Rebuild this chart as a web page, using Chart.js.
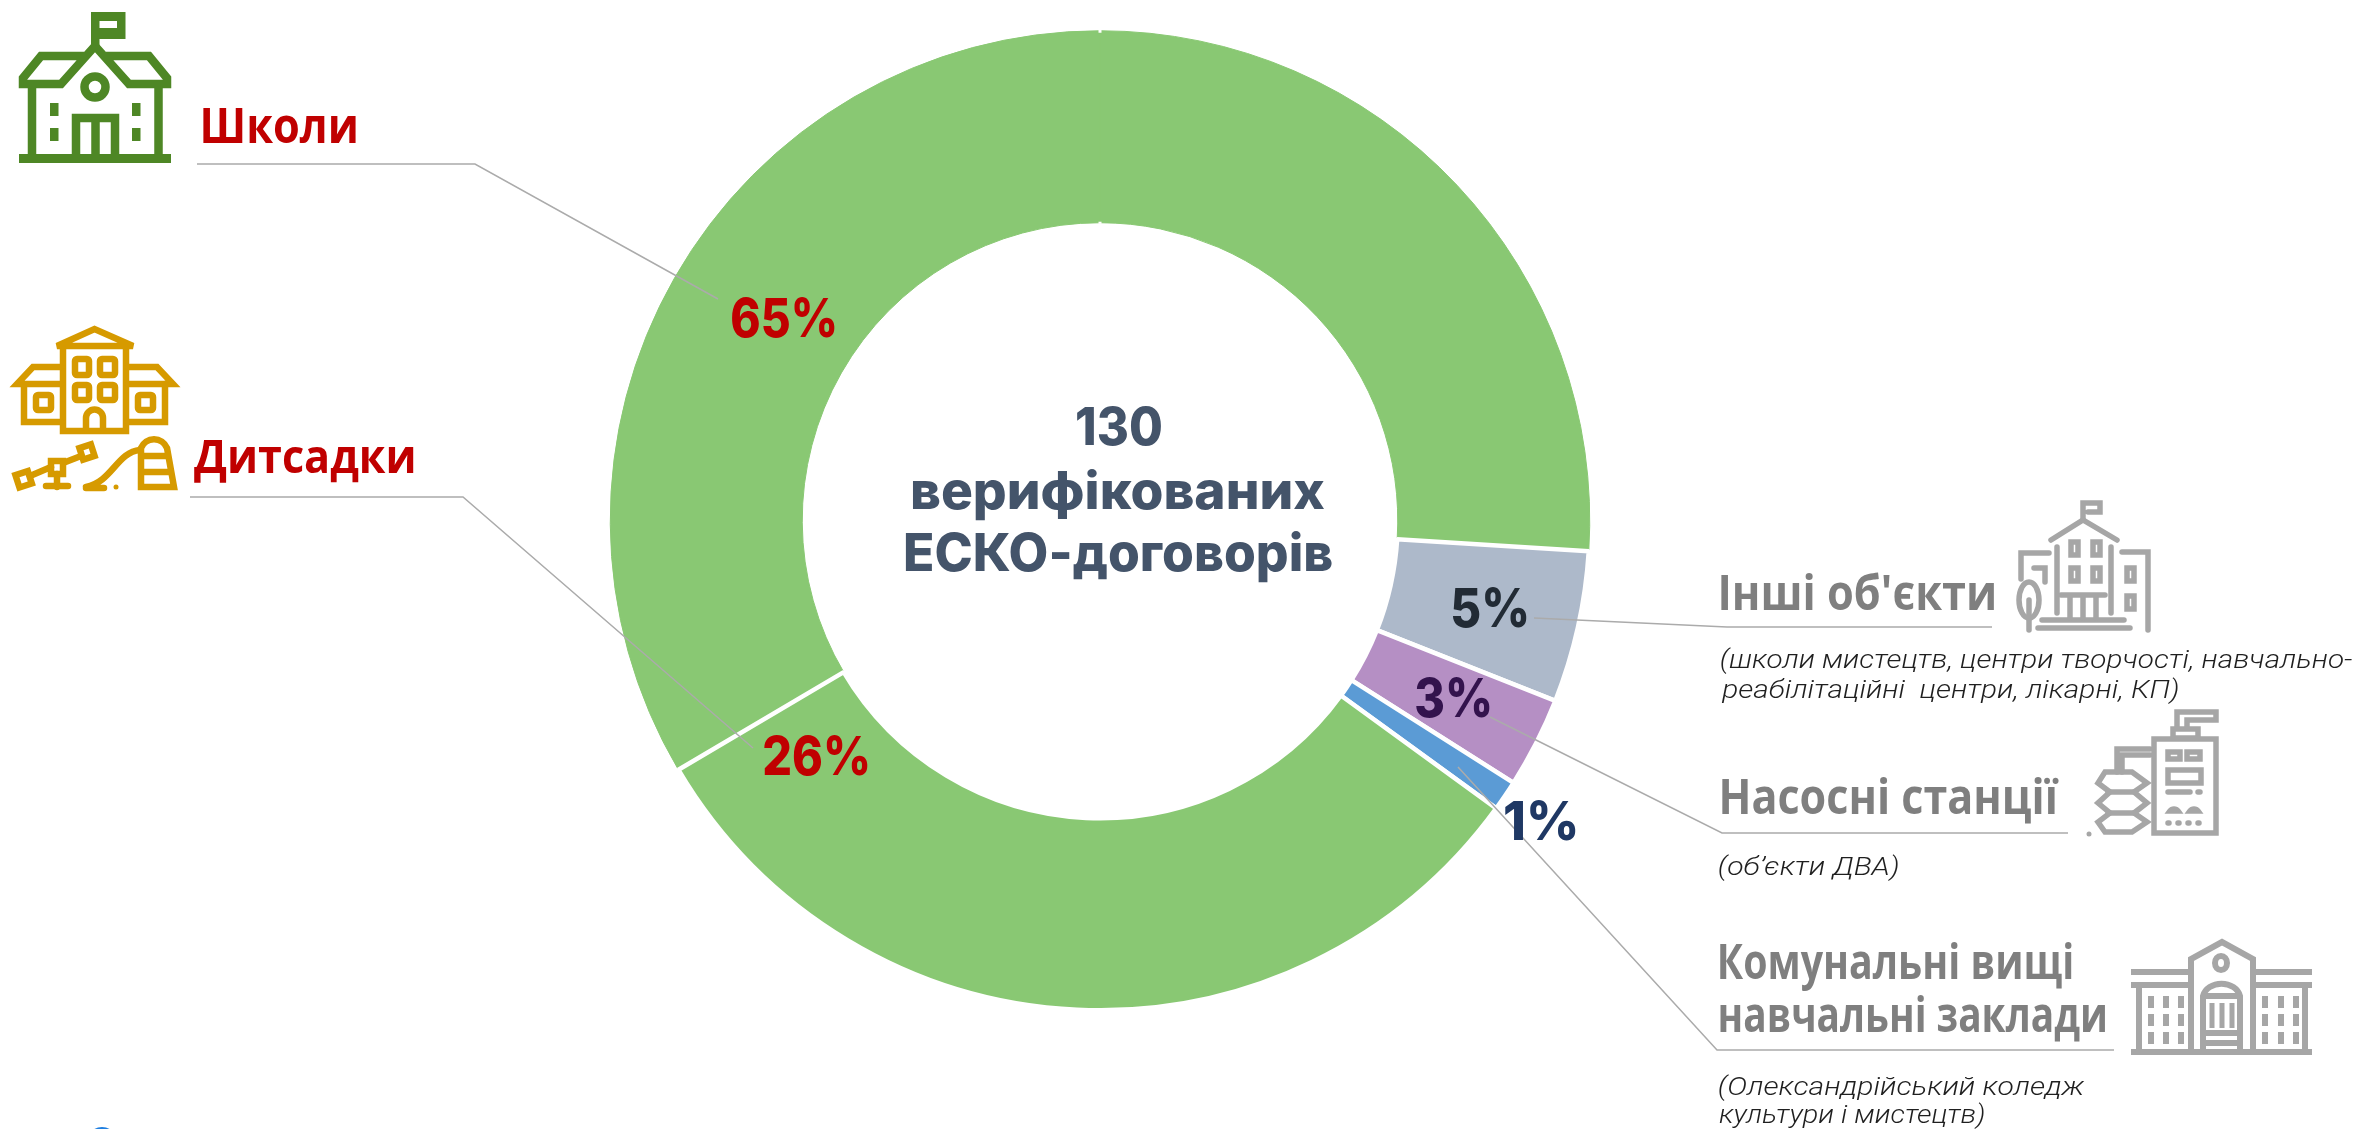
<!DOCTYPE html>
<html lang="uk">
<head>
<meta charset="utf-8">
<title>130 верифікованих ЕСКО-договорів</title>
<script src="https://cdn.jsdelivr.net/npm/chart.js@4/dist/chart.umd.js"></script>
<style>
html,body{margin:0;padding:0;background:#fff;overflow:hidden}
#wrap{position:relative;width:2356px;height:1129px}
canvas,svg{position:absolute;left:0;top:0}
svg .s{fill:none;stroke-linejoin:miter}
</style>
</head>
<body>
<div id="wrap">
<canvas id="c" width="2356" height="1129"></canvas>
<svg width="2356" height="1129" viewBox="0 0 2356 1129">
  <!-- school -->
  <g fill="#4E8725" stroke="none">
    <path fill-rule="evenodd" d="M91 12H125.5V39H99.5V46H91ZM99.5 21V28H117V21Z"/>
    <rect x="19" y="154" width="152" height="9"/>
    <rect x="50" y="103" width="8.5" height="13"/><rect x="50" y="128" width="8.5" height="13"/>
    <rect x="132" y="103" width="8.5" height="13"/><rect x="132" y="128" width="8.5" height="13"/>
  </g>
  <g class="s" stroke="#4E8725" stroke-width="8.5">
    <path d="M95 46L61 84H23V78L41 56H84"/>
    <path d="M95 46L129 84H167V78L149 56H106"/>
    <path d="M32 86V156M158.500 86V156"/>
    <path d="M76 156V118H115V156M95.500 118V156"/>
    <circle cx="95" cy="87" r="10.500"/>
  </g>
  <!-- kindergarten -->
  <g class="s" stroke="#D69A00" stroke-width="6.500" stroke-linejoin="round" stroke-linecap="round">
    <path d="M57 346L94.500 329L133 346ZM63 347V431H126V347"/>
    <path d="M61 367H33L17 384H61M128 367H157L173 384H128"/>
    <path d="M24 384V422H61M165 384V422H128"/>
    <rect x="75" y="359" width="14" height="16" rx="2"/><rect x="100" y="359" width="15" height="16" rx="2"/>
    <rect x="75" y="385" width="14" height="15" rx="2"/><rect x="100" y="385" width="15" height="15" rx="2"/>
    <rect x="36" y="395" width="15" height="15" rx="2"/><rect x="138" y="395" width="15" height="15" rx="2"/>
    <path d="M86 429V418A8.500 8.500 0 0 1 103 418V429"/>
    <rect x="17" y="473" width="13" height="13" transform="rotate(-18 23 479)"/>
    <rect x="51" y="461" width="12" height="13"/>
    <rect x="81" y="446" width="12" height="12" transform="rotate(-18 87 452)"/>
    <path d="M30 476L51 467M63 463L81 456M46 486H68M57 474V487"/>
    <path d="M86 487C112 482 117 452 140 450M86 488H104"/>
    <path d="M141 487V448A14 14 0 0 1 167 448L174 487ZM141 456H167M141 472H171"/>
  </g>
  <circle cx="116" cy="487" r="2.500" fill="#D69A00"/>
  <!-- other objects -->
  <g class="s" stroke="#A6A6A6" stroke-width="5.500" stroke-linecap="round">
    <path d="M2083 520V503H2100V512H2088"/>
    <path d="M2051 540L2083 520L2117 540"/>
    <path d="M2057 547V613M2111 547V613"/>
    <path d="M2049 553H2021V579M2034 568H2045V582M2122 552H2148V630"/>
    <rect x="2071" y="542" width="7" height="13"/><rect x="2093" y="542" width="7" height="13"/>
    <rect x="2071" y="568" width="7" height="13"/><rect x="2093" y="568" width="7" height="13"/>
    <rect x="2127" y="568" width="7" height="13"/><rect x="2127" y="596" width="7" height="13"/>
    <ellipse cx="2029" cy="600" rx="10" ry="18"/><path d="M2029 600V630"/>
    <path d="M2042 620H2124M2038 628H2130"/>
    <path d="M2061 595H2105M2070 595V618M2083 595V618M2096 595V618"/>
  </g>
  <!-- pump station -->
  <g class="s" stroke="#A6A6A6" stroke-width="5.500" stroke-linecap="round">
    <rect x="2154" y="739" width="62" height="94"/>
    <path d="M2177 728V712H2216V720H2187V728"/>
    <rect x="2173" y="729" width="25" height="9"/>
    <path d="M2117 772V749H2150M2122 772V755H2150"/>
    <path d="M2105 772H2132L2147 783L2134 792L2147 803L2134 813L2147 822L2132 832H2105L2098 822L2110 813L2098 803L2110 792L2098 783Z"/>
    <path d="M2108 792H2134M2108 813H2134"/>
    <rect x="2168" y="752" width="12" height="7"/><rect x="2187" y="752" width="13" height="7"/>
    <rect x="2168" y="770" width="33" height="13"/>
    <path d="M2168 792H2190M2198 792H2200M2170 811A5 5 0 0 1 2178 811ZM2190 811A5 5 0 0 1 2198 811Z"/>
    <path d="M2168 823H2169M2178 823H2179M2188 823H2189M2198 823H2199"/>
  </g>
  <circle cx="2089" cy="834" r="2.500" fill="#A6A6A6"/>
  <!-- college -->
  <g class="s" stroke="#A6A6A6" stroke-width="6">
    <path d="M2191 1052V959L2222 942L2253 959V1052"/>
    <ellipse cx="2221" cy="963" rx="6" ry="7"/>
    <path d="M2131 972H2191M2253 972H2312M2131 985H2191M2253 985H2312"/>
    <path d="M2131 1052H2312" stroke-width="6"/>
    <path d="M2139 985V1052M2305 985V1052"/>
    <path d="M2203 1052V996A19 16 0 0 1 2240 996V1052M2203 996H2240M2203 1033H2240M2203 1043H2240"/>
    <path d="M2212 1003V1028M2222 1003V1028M2232 1003V1028" stroke-width="5"/>
  </g>
  <g fill="#A6A6A6">
    <rect x="2148" y="996" width="6" height="12"/><rect x="2163" y="996" width="6" height="12"/><rect x="2178" y="996" width="6" height="12"/>
    <rect x="2148" y="1014" width="6" height="12"/><rect x="2163" y="1014" width="6" height="12"/><rect x="2178" y="1014" width="6" height="12"/>
    <rect x="2148" y="1032" width="6" height="12"/><rect x="2163" y="1032" width="6" height="12"/><rect x="2178" y="1032" width="6" height="12"/>
    <rect x="2262" y="996" width="6" height="12"/><rect x="2278" y="996" width="6" height="12"/><rect x="2293" y="996" width="6" height="12"/>
    <rect x="2262" y="1014" width="6" height="12"/><rect x="2278" y="1014" width="6" height="12"/><rect x="2293" y="1014" width="6" height="12"/>
    <rect x="2262" y="1032" width="6" height="12"/><rect x="2278" y="1032" width="6" height="12"/><rect x="2293" y="1032" width="6" height="12"/>
  </g>
  <circle cx="102" cy="1142" r="15" fill="#1F7FE0"/>
</svg>
</div>
<script>
// ---- data ----
const categories = ['Школи', 'Дитсадки', "Інші об'єкти", 'Насосні станції', 'Комунальні вищі навчальні заклади', 'Школи (нижня частина)'];
const sliceValues = [33.5, 26, 5, 3, 1, 31.5];
const sliceColors = ['#89C873', '#89C873', '#ADB9CA', '#B58FC4', '#5B9BD5', '#89C873'];
const percentLabels = ['65%', '26%', '5%', '3%', '1%'];
const centerLines = ['130', 'верифікованих', 'ЕСКО-договорів'];
const headings = ['Школи', 'Дитсадки', "Інші об'єкти", 'Насосні станції', 'Комунальні вищі', 'навчальні заклади'];
const captions = ['(школи мистецтв, центри творчості, навчально-', 'реабілітаційні  центри, лікарні, КП)', '(об’єкти ДВА)', '(Олександрійський коледж', 'культури і мистецтв)'];

// ---- placement and style ----
const startAngle = 239.4;
const percentPlace = [[732,337,103,'#C00000'],[764,775,104,'#C00000'],[1453,627,74,'#222B35'],[1416,717,74,'#33134D'],[1505,840,71,'#1F3864']];
const centerPlace = [[1077,445,84],[912,509,413],[905,571,427]];
const headingPlace = [[203,143,153,'#C00000',49],[194,473,220,'#C00000',47],[1721,610,273,'#7F7F7F',48],[1722,814,337,'#7F7F7F',48],[1720,979,352,'#7F7F7F',48],[1720,1032,385,'#7F7F7F',48]];
const captionPlace = [[1721,668,631],[1721,698,457],[1719,875,179],[1719,1095,366],[1719,1123,265]];
const leaders = [
  [[197,164],[475,164],[718,299]],
  [[190,497],[463,497],[753,748]],
  [[1534,618],[1727,627],[1992,627]],
  [[1490,717],[1722,833],[2068,833]],
  [[1458,767],[1717,1050],[2114,1050]]
];

function fit(ctx, text, x, y, width, font, color) {
  ctx.save();
  ctx.font = font;
  ctx.fillStyle = color;
  ctx.textAlign = 'left';
  ctx.textBaseline = 'alphabetic';
  const m = ctx.measureText(text);
  const inkLeft = -m.actualBoundingBoxLeft;
  const ink = m.actualBoundingBoxRight + m.actualBoundingBoxLeft;
  const k = width / ink;
  ctx.translate(x - inkLeft * k, y);
  ctx.scale(k, 1);
  ctx.fillText(text, 0, 0);
  ctx.restore();
}

const annotations = {
  id: 'annotations',
  afterDatasetsDraw(chart) {
    const ctx = chart.ctx;
    // small notches where the two green slices meet at the top
    const seam = chart.getDatasetMeta(0).data[1];
    const a = seam.startAngle;
    ctx.save();
    ctx.strokeStyle = '#fff';
    ctx.lineWidth = 3;
    [[seam.outerRadius - 2, seam.outerRadius + 1], [seam.innerRadius - 1, seam.innerRadius + 1]].forEach(([r0, r1]) => {
      ctx.beginPath();
      ctx.moveTo(seam.x + r0 * Math.cos(a), seam.y + r0 * Math.sin(a));
      ctx.lineTo(seam.x + r1 * Math.cos(a), seam.y + r1 * Math.sin(a));
      ctx.stroke();
    });
    ctx.restore();

    ctx.save();
    ctx.strokeStyle = '#ABABAB';
    ctx.lineWidth = 1.5;
    leaders.forEach(p => {
      ctx.beginPath();
      p.forEach(([x, y], i) => i ? ctx.lineTo(x, y) : ctx.moveTo(x, y));
      ctx.stroke();
    });
    ctx.restore();

    percentLabels.forEach((t, i) => {
      const [x, y, w, col] = percentPlace[i];
      fit(ctx, t, x, y, w, '800 54px Inter, "Open Sans", sans-serif', col);
    });
    centerLines.forEach((t, i) => {
      const [x, y, w] = centerPlace[i];
      fit(ctx, t, x, y, w, '800 52px Inter, "Open Sans", sans-serif', '#44546A');
    });
    headings.forEach((t, i) => {
      const [x, y, w, col, size] = headingPlace[i];
      fit(ctx, t, x, y, w, `700 ${size}px "Open Sans", "Noto Sans", sans-serif`, col);
    });
    captions.forEach((t, i) => {
      const [x, y, w] = captionPlace[i];
      fit(ctx, t, x, y, w, 'italic 300 26px Roboto, "Open Sans", sans-serif', '#1F1F1F');
    });
  }
};

new Chart(document.getElementById('c'), {
  type: 'doughnut',
  data: {
    labels: categories,
    datasets: [{
      data: sliceValues,
      backgroundColor: sliceColors,
      borderColor: ['#89C873', '#89C873', '#fff', '#fff', '#fff', '#fff'],
      borderWidth: [1, 1, 4.5, 4.5, 4.5, 4.5],
      hoverOffset: 0
    }]
  },
  options: {
    responsive: false,
    animation: false,
    rotation: startAngle,
    cutout: '60.8%',
    layout: { padding: { left: 608, right: 764, top: 28, bottom: 116 } },
    events: [],
    plugins: { legend: { display: false }, tooltip: { enabled: false }, title: { display: false } }
  },
  plugins: [annotations]
});
</script>
</body>
</html>
